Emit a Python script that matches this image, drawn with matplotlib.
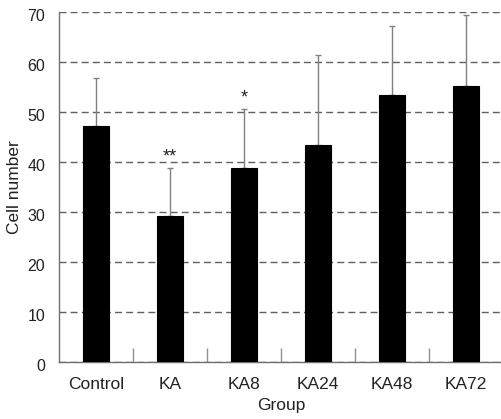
import numpy as np
import matplotlib as mpl
import matplotlib.pyplot as plt
from matplotlib.transforms import ScaledTranslation

plt.rcParams['font.family'] = ['Liberation Sans', 'DejaVu Sans']

groups = ['Control', 'KA', 'KA8', 'KA24', 'KA48', 'KA72']
means = [47.2, 29.1, 38.8, 43.4, 53.3, 55.2]
err_up = [9.6, 9.7, 11.8, 17.9, 13.8, 14.2]
marks = ['', '**', '*', '', '', '']

fig = plt.figure(figsize=(5.02, 4.19), dpi=100)
ax = fig.add_axes([59/502, 57/419, 444/502, 350/419])

x = np.arange(len(groups))
ax.bar(x, means, width=0.34, color='black', edgecolor='black', linewidth=0.8, zorder=3)
ax.errorbar(x, means, yerr=[np.zeros(len(x)), err_up], fmt='none',
            ecolor='#808080', elinewidth=1, capsize=2.5, capthick=1, zorder=2)
for xi, m, e, s in zip(x, means, err_up, marks):
    if s:
        ax.text(xi, m + e + 0.6, s, ha='center', va='bottom', fontsize=13, color='#222222')

ax.set_xlim(-0.5, len(groups) - 0.5)
ax.set_ylim(0, 70)
ax.set_yticks(np.arange(0, 71, 10))
ax.yaxis.grid(True, linestyle=(0, (5, 3)), color='#606060', linewidth=1, zorder=0)
ax.set_axisbelow(True)

ax.set_xticks(x)
ax.set_xticklabels(groups)
ax.set_xticks(np.arange(0.5, len(groups) - 1, 1), minor=True)
ax.tick_params(axis='x', which='major', length=0, pad=11, labelsize=12.5, labelcolor='#222222')
ax.tick_params(axis='x', which='minor', direction='in', length=10, color='#909090', width=1)
ax.tick_params(axis='y', length=0, pad=10, labelsize=11.5, labelcolor='#222222')
shift = ScaledTranslation(0, -3/100, fig.dpi_scale_trans)
for lbl in ax.get_yticklabels():
    lbl.set_transform(lbl.get_transform() + shift)

for side in ['top', 'right']:
    ax.spines[side].set_visible(False)
for side in ['left', 'bottom']:
    ax.spines[side].set_color('#707070')
    ax.spines[side].set_linewidth(1)

ax.set_ylabel('Cell number', fontsize=12.5, color='#222222', labelpad=4)
ax.set_xlabel('Group', fontsize=12.5, color='#222222', labelpad=4)

fig.savefig('out.png', dpi=100)
